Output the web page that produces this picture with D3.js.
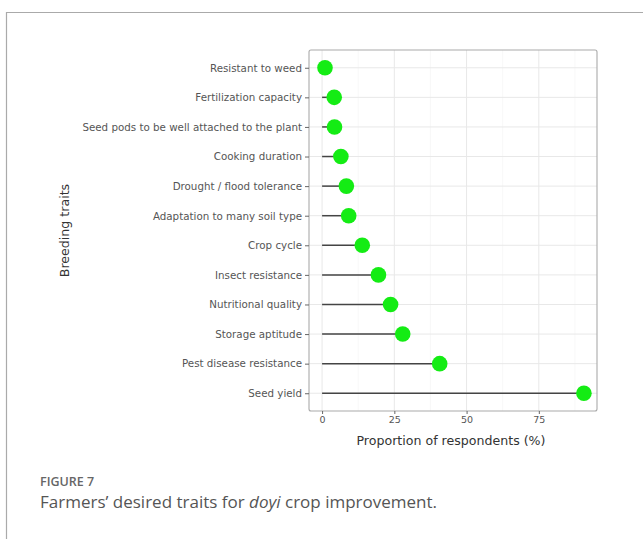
<!DOCTYPE html>
<html>
<head>
<meta charset="utf-8">
<script src="https://cdn.jsdelivr.net/npm/d3@7"></script>
<style>
    body { margin: 0; background: #fff; }
    svg { display: block; }
</style>
</head>
<body>
<svg id="chart" width="643" height="539"></svg>
<script>
    // traits, top to bottom
    const traits = [
        "Resistant to weed",
        "Fertilization capacity",
        "Seed pods to be well attached to the plant",
        "Cooking duration",
        "Drought / flood tolerance",
        "Adaptation to many soil type",
        "Crop cycle",
        "Insect resistance",
        "Nutritional quality",
        "Storage aptitude",
        "Pest disease resistance",
        "Seed yield"
    ];
    const proportions = [1.0, 4.2, 4.3, 6.5, 8.4, 9.2, 13.9, 19.5, 23.7, 27.9, 40.7, 90.6];
    const xTicks = [0, 25, 50, 75];
    const xMinor = [12.5, 37.5, 62.5, 87.5];

    const chartFont = "'DejaVu Sans', Verdana, sans-serif";
    const captionFont = "'Open Sans', 'Noto Sans', sans-serif";

    const svg = d3.select("#chart");

    // outer figure frame (top and left rule)
    svg.append("path")
        .attr("d", "M6.5,539 V12.5 H643")
        .attr("fill", "none")
        .attr("stroke", "#aaa")
        .attr("stroke-width", 1.2);

    const panel = { left: 309, right: 597, top: 50, bottom: 411 };

    const maxV = d3.max(proportions);
    const pad = maxV * 0.05;
    const x = d3.scaleLinear()
        .domain([0 - pad, maxV + pad])
        .range([panel.left, panel.right]);

    const y = d3.scalePoint()
        .domain(traits)
        .range([panel.top, panel.bottom])
        .padding(0.6);

    const g = svg.append("g");

    // grid
    g.selectAll("line.minor")
        .data(xMinor)
        .join("line")
        .attr("x1", d => x(d)).attr("x2", d => x(d))
        .attr("y1", panel.top).attr("y2", panel.bottom)
        .attr("stroke", "#f3f3f3").attr("stroke-width", 0.6);

    g.selectAll("line.vmajor")
        .data(xTicks)
        .join("line")
        .attr("x1", d => x(d)).attr("x2", d => x(d))
        .attr("y1", panel.top).attr("y2", panel.bottom)
        .attr("stroke", "#e8e8e8").attr("stroke-width", 1);

    g.selectAll("line.hmajor")
        .data(traits)
        .join("line")
        .attr("x1", panel.left).attr("x2", panel.right)
        .attr("y1", d => y(d)).attr("y2", d => y(d))
        .attr("stroke", "#e8e8e8").attr("stroke-width", 1);

    // panel border
    g.append("rect")
        .attr("x", panel.left).attr("y", panel.top)
        .attr("width", panel.right - panel.left)
        .attr("height", panel.bottom - panel.top)
        .attr("rx", 2)
        .attr("fill", "none")
        .attr("stroke", "#aaa")
        .attr("stroke-width", 1.1);

    // axes
    const yAxis = d3.axisLeft(y).tickSize(4).tickPadding(3);
    const yG = svg.append("g")
        .attr("transform", `translate(${panel.left},0)`)
        .call(yAxis);
    yG.select(".domain").remove();
    yG.selectAll(".tick line").attr("stroke", "#666");
    yG.selectAll(".tick text")
        .attr("fill", "#555")
        .style("font-family", chartFont)
        .style("font-size", "10.3px");

    const xAxis = d3.axisBottom(x).tickValues(xTicks).tickSize(3).tickPadding(2);
    const xG = svg.append("g")
        .attr("transform", `translate(0,${panel.bottom})`)
        .call(xAxis);
    xG.select(".domain").remove();
    xG.selectAll(".tick line").attr("stroke", "#666");
    xG.selectAll(".tick text")
        .attr("fill", "#555")
        .style("font-family", chartFont)
        .style("font-size", "9.5px");

    // lollipops
    const rows = traits.map((t, i) => ({ trait: t, value: proportions[i] }));

    g.selectAll("line.stem")
        .data(rows)
        .join("line")
        .attr("x1", x(0))
        .attr("x2", d => x(d.value))
        .attr("y1", d => y(d.trait))
        .attr("y2", d => y(d.trait))
        .attr("stroke", "#444")
        .attr("stroke-width", 1.5);

    g.selectAll("circle.dot")
        .data(rows)
        .join("circle")
        .attr("cx", d => x(d.value))
        .attr("cy", d => y(d.trait))
        .attr("r", 7.8)
        .attr("fill", "#14ec14");

    // axis titles
    svg.append("text")
        .attr("x", 451)
        .attr("y", 445)
        .attr("text-anchor", "middle")
        .attr("fill", "#333")
        .style("font-family", chartFont)
        .style("font-size", "12.6px")
        .text("Proportion of respondents (%)");

    svg.append("text")
        .attr("transform", `translate(69,${(panel.top + panel.bottom) / 2}) rotate(-90)`)
        .attr("text-anchor", "middle")
        .attr("fill", "#333")
        .style("font-family", chartFont)
        .style("font-size", "12.6px")
        .text("Breeding traits");

    // caption
    svg.append("text")
        .attr("x", 40).attr("y", 486)
        .attr("fill", "#666")
        .style("font-family", captionFont)
        .style("font-weight", 600)
        .style("font-size", "12.5px")
        .text("FIGURE 7");

    const cap = svg.append("text")
        .attr("x", 40).attr("y", 508)
        .attr("fill", "#555")
        .style("font-family", captionFont)
        .style("font-size", "17px");
    cap.append("tspan").text("Farmers\u2019 desired traits for ");
    cap.append("tspan").style("font-style", "italic").text("doyi");
    cap.append("tspan").text(" crop improvement.");
</script>
</body>
</html>
